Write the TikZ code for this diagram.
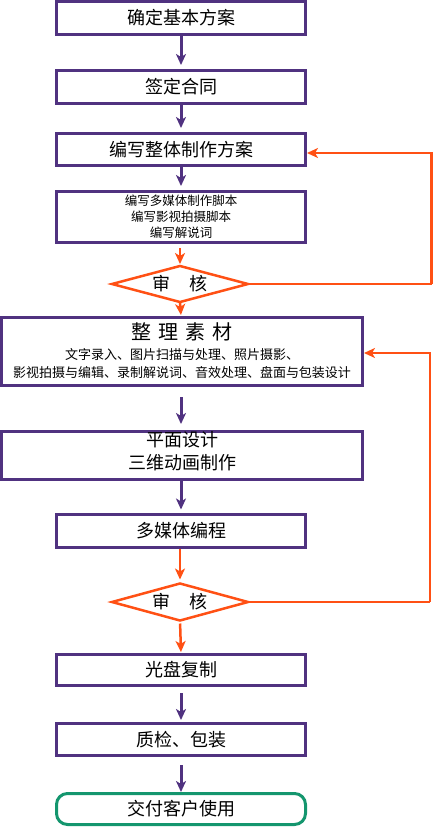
\documentclass[tikz,border=0pt]{standalone}
\usepackage{fontspec}
\newfontfamily\cjk{Noto Sans CJK SC}
\usetikzlibrary{arrows.meta}
\definecolor{pur}{RGB}{80,50,128}
\definecolor{org}{RGB}{255,80,20}
\definecolor{grn}{RGB}{20,150,110}
\tikzset{
  box/.style={draw=pur,line width=3pt,inner sep=0pt,align=center,font=\cjk\fontsize{18}{23}\selectfont},
  narrow/.style={box,minimum width=249pt},
  wide/.style={box,minimum width=361pt},
  parrow/.style={draw=pur,line width=3pt,-{Stealth[length=11pt,width=10pt,inset=3pt]}},
  oarrow/.style={draw=org,line width=2.5pt,-{Stealth[length=11pt,width=10pt,inset=3pt]}},
  oline/.style={draw=org,line width=2.5pt},
  dia/.style={draw=org,line width=2.5pt,line join=miter},
  dtext/.style={font=\cjk\fontsize{18}{20}\selectfont,inner sep=0pt}
}
\begin{document}
\begin{tikzpicture}[x=1pt,y=-1pt]
\useasboundingbox (0,0) rectangle (433,827);
% boxes
\node[narrow,minimum height=33pt] (b1) at (181,18) {确定基本方案};
\node[narrow,minimum height=33pt] (b2) at (181,87) {签定合同};
\node[narrow,minimum height=32pt] (b3) at (181,149.5) {编写整体制作方案};
\node[narrow,minimum height=51pt,font=\cjk\fontsize{12.5}{16}\selectfont] (b4) at (181,217) {编写多媒体制作脚本\\编写影视拍摄脚本\\编写解说词};
% diamond 1
\coordinate (d1) at (180,284);
\coordinate (d1n) at (180,266);
\coordinate (d1s) at (180,302);
\coordinate (d1w) at (112,284);
\coordinate (d1e) at (248,284);
\draw[dia] (d1n) -- (d1e) -- (d1s) -- (d1w) -- cycle;
\node[dtext] (t1) at (d1) {审\hspace{1.05em}核};
% box 5
\node[wide,minimum height=68pt] (b5) at (182,351.5) {};
\node[font=\cjk\fontsize{20}{22}\selectfont,inner sep=0pt] (b5t) at (182,332) {整\hspace{0.35em}理\hspace{0.35em}素\hspace{0.35em}材};
\node[font=\cjk\fontsize{13}{18}\selectfont,inner sep=0pt,align=center] (b5s) at (182,364) {文字录入、图片扫描与处理、照片摄影、\\影视拍摄与编辑、录制解说词、音效处理、盘面与包装设计};
% box 6
\node[wide,minimum height=48pt] (b6) at (182,455.5) {};
\node[font=\cjk\fontsize{18}{23}\selectfont,inner sep=0pt,align=center] (b6t) at (182,451.5) {平面设计\\三维动画制作};
\node[narrow,minimum height=33pt] (b7) at (181,530.5) {多媒体编程};
% diamond 2
\coordinate (d2) at (180,602);
\coordinate (d2n) at (180,583.5);
\coordinate (d2s) at (180,620.5);
\coordinate (d2w) at (112,602);
\coordinate (d2e) at (248,602);
\draw[dia] (d2n) -- (d2e) -- (d2s) -- (d2w) -- cycle;
\node[dtext] (t2) at (d2) {审\hspace{1.05em}核};
\node[narrow,minimum height=31pt] (b8) at (181,670) {光盘复制};
\node[narrow,minimum height=32pt] (b9) at (181,739.5) {质检、包装};
\node[box,draw=grn,minimum width=249pt,minimum height=31pt,rounded corners=11pt] (b10) at (181,809) {交付客户使用};
% arrows
\draw[parrow,shorten >=4pt] (b1.south) -- (b2.north);
\draw[parrow,shorten >=4pt] (b2.south) -- (b3.north);
\draw[parrow,shorten >=4pt] (b3.south) -- (b4.north);
\draw[oarrow,shorten <=4pt,shorten >=2pt] ([xshift=-1pt]b4.south) -- (d1n);
\draw[oarrow,shorten >=1pt] (d1s) -- ([xshift=-1pt]b5.north);
\draw[parrow,shorten <=10pt,shorten >=6pt] ([xshift=-1pt]b5.south) -- ([xshift=-1pt]b6.north);
\draw[parrow,shorten >=3pt] ([xshift=-1pt]b6.south) -- (b7.north);
\draw[oarrow,shorten >=4pt] ([xshift=-1pt]b7.south) -- (d2n);
\draw[oarrow,shorten <=3pt,shorten >=1pt] (d2s) -- (b8.north);
\draw[parrow,shorten <=6pt,shorten >=2pt] (b8.south) -- (b9.north);
\draw[parrow,shorten <=8pt,shorten >=0pt] (b9.south) -- (b10.north);
% feedback loops
\coordinate (r1) at (431.5,284);
\coordinate (r2) at (430,602);
\draw[oline] (d1e) -- (r1);
\draw[oarrow] (r1) |- ([yshift=-3.5pt]b3.east);
\draw[oline] (d2e) -- (r2);
\draw[oarrow] (r2) |- ([yshift=-1.5pt]b5.east);
\end{tikzpicture}
\end{document}
